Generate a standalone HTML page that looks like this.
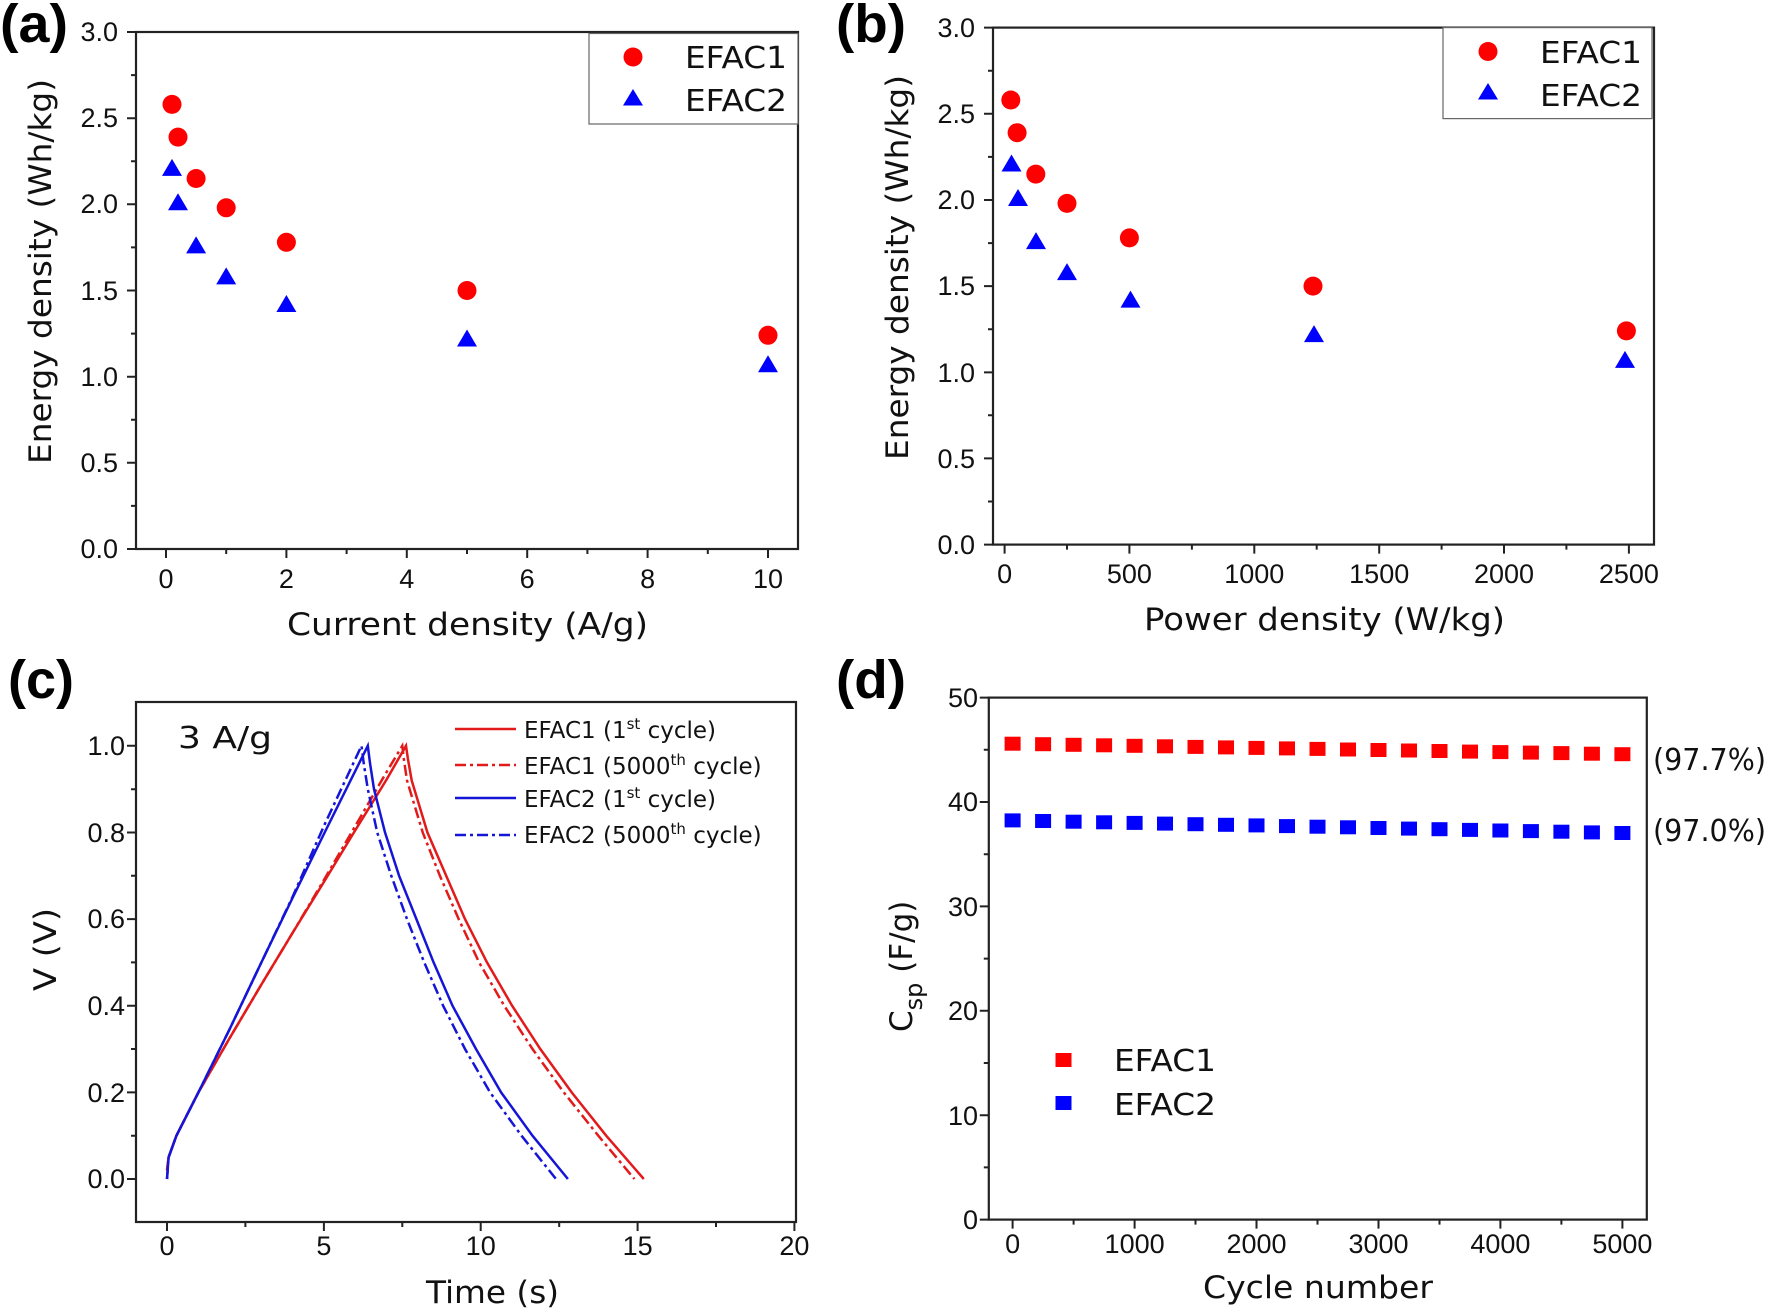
<!DOCTYPE html>
<html><head><meta charset="utf-8"><style>
html,body{margin:0;padding:0;background:#fff}
svg{display:block}
.t{font-family:"Liberation Sans",sans-serif;font-size:27px;fill:#111}
.ti{font-family:"DejaVu Sans","Liberation Sans",sans-serif;font-size:31px;fill:#111}
.lg{font-family:"DejaVu Sans","Liberation Sans",sans-serif;font-size:30px;fill:#111}
.lc{font-family:"DejaVu Sans","Liberation Sans",sans-serif;font-size:23px;fill:#111}
.pl{font-family:"Liberation Sans",sans-serif;font-size:54px;font-weight:bold;fill:#000}
.ax{fill:none;stroke:#222;stroke-width:2.2}
.tk{stroke:#222;stroke-width:2}
</style></head><body>
<svg width="1776" height="1314" viewBox="0 0 1776 1314" xmlns="http://www.w3.org/2000/svg">
<!-- Panel labels -->
<text class="pl" x="0" y="42" textLength="68" lengthAdjust="spacingAndGlyphs">(a)</text>
<text class="pl" x="836" y="42" textLength="70" lengthAdjust="spacingAndGlyphs">(b)</text>
<text class="pl" x="8" y="698" textLength="66" lengthAdjust="spacingAndGlyphs">(c)</text>
<text class="pl" x="836" y="698" textLength="70" lengthAdjust="spacingAndGlyphs">(d)</text>

<!-- ===== (a) ===== -->
<rect class="ax" x="136" y="32" width="662" height="517"/>
<g class="tk">
<path d="M166 549v9M286.4 549v9M406.8 549v9M527.2 549v9M647.6 549v9M768 549v9M226.2 549v5M346.6 549v5M467 549v5M587.4 549v5M707.8 549v5"/>
<path d="M136 549h-9M136 462.8h-9M136 376.7h-9M136 290.5h-9M136 204.3h-9M136 118.2h-9M136 32h-9M136 505.9h-5M136 419.7h-5M136 333.6h-5M136 247.4h-5M136 161.3h-5M136 75.1h-5"/>
</g>
<g class="t" text-anchor="end">
<text x="118" y="558">0.0</text><text x="118" y="472">0.5</text><text x="118" y="386">1.0</text><text x="118" y="300">1.5</text><text x="118" y="213">2.0</text><text x="118" y="127">2.5</text><text x="118" y="41">3.0</text>
</g>
<g class="t" text-anchor="middle">
<text x="166" y="588">0</text><text x="286.4" y="588">2</text><text x="406.8" y="588">4</text><text x="527.2" y="588">6</text><text x="647.6" y="588">8</text><text x="768" y="588">10</text>
</g>
<text class="ti" x="287" y="635" textLength="361" lengthAdjust="spacingAndGlyphs">Current density (A/g)</text>
<text class="ti" transform="translate(51,272) rotate(-90)" x="-192" y="0" textLength="385" lengthAdjust="spacingAndGlyphs">Energy density (Wh/kg)</text>
<rect x="589" y="33.5" width="209" height="90.5" fill="#fff" stroke="#666" stroke-width="1.2"/>
<circle cx="633" cy="57" r="9.5" fill="#f00"/>
<path d="M633 89l10 16.5h-20z" fill="#00f"/>
<text class="lg" x="685" y="68" textLength="102" lengthAdjust="spacingAndGlyphs">EFAC1</text>
<text class="lg" x="685" y="111" textLength="102" lengthAdjust="spacingAndGlyphs">EFAC2</text>
<g fill="#f00">
<circle cx="172" cy="104.4" r="9.5"/><circle cx="178" cy="137.1" r="9.5"/><circle cx="196.1" cy="178.5" r="9.5"/><circle cx="226.2" cy="207.8" r="9.5"/><circle cx="286.4" cy="242.3" r="9.5"/><circle cx="467" cy="290.5" r="9.5"/><circle cx="768" cy="335.3" r="9.5"/>
</g>
<g fill="#00f">
<path d="M172 158.9l10 17h-20z"/><path d="M178 193.3l10 17h-20z"/><path d="M196.1 236.4l10 17h-20z"/><path d="M226.2 267.4l10 17h-20z"/><path d="M286.4 295l10 17h-20z"/><path d="M467 329.5l10 17h-20z"/><path d="M768 355.3l10 17h-20z"/>
</g>

<!-- ===== (b) ===== -->
<rect class="ax" x="993" y="27.6" width="661" height="517"/>
<g class="tk">
<path d="M1004.6 544.6v9M1129.4 544.6v9M1254.3 544.6v9M1379.2 544.6v9M1504 544.6v9M1628.9 544.6v9M1067 544.6v5M1191.9 544.6v5M1316.7 544.6v5M1441.6 544.6v5M1566.4 544.6v5"/>
<path d="M993 544.6h-9M993 458.4h-9M993 372.4h-9M993 286.1h-9M993 200h-9M993 113.8h-9M993 27.6h-9M993 501.5h-5M993 415.3h-5M993 329.2h-5M993 243.1h-5M993 156.9h-5M993 70.7h-5"/>
</g>
<g class="t" text-anchor="end">
<text x="975" y="554">0.0</text><text x="975" y="468">0.5</text><text x="975" y="382">1.0</text><text x="975" y="295">1.5</text><text x="975" y="209">2.0</text><text x="975" y="123">2.5</text><text x="975" y="37">3.0</text>
</g>
<g class="t" text-anchor="middle">
<text x="1004.6" y="583">0</text><text x="1129.4" y="583">500</text><text x="1254.3" y="583">1000</text><text x="1379.2" y="583">1500</text><text x="1504" y="583">2000</text><text x="1628.9" y="583">2500</text>
</g>
<text class="ti" x="1144" y="630" textLength="361" lengthAdjust="spacingAndGlyphs">Power density (W/kg)</text>
<text class="ti" transform="translate(908,268) rotate(-90)" x="-192" y="0" textLength="385" lengthAdjust="spacingAndGlyphs">Energy density (Wh/kg)</text>
<rect x="1443" y="27.6" width="209" height="91" fill="#fff" stroke="#666" stroke-width="1.2"/>
<circle cx="1488" cy="51.5" r="9.5" fill="#f00"/>
<path d="M1488 83l10 16.5h-20z" fill="#00f"/>
<text class="lg" x="1540" y="63" textLength="102" lengthAdjust="spacingAndGlyphs">EFAC1</text>
<text class="lg" x="1540" y="106" textLength="102" lengthAdjust="spacingAndGlyphs">EFAC2</text>
<g fill="#f00">
<circle cx="1010.8" cy="100" r="9.5"/><circle cx="1017.1" cy="132.7" r="9.5"/><circle cx="1035.8" cy="174.1" r="9.5"/><circle cx="1067" cy="203.4" r="9.5"/><circle cx="1129.4" cy="237.9" r="9.5"/><circle cx="1313" cy="286.1" r="9.5"/><circle cx="1626.4" cy="330.9" r="9.5"/>
</g>
<g fill="#00f">
<path d="M1011.5 154.5l10 17h-20z"/><path d="M1018 189l10 17h-20z"/><path d="M1036 232.1l10 17h-20z"/><path d="M1067 263.1l10 17h-20z"/><path d="M1130.5 290.6l10 17h-20z"/><path d="M1314 325.1l10 17h-20z"/><path d="M1625 350.9l10 17h-20z"/>
</g>

<!-- ===== (c) ===== -->
<rect class="ax" x="136" y="702" width="660" height="520"/>
<g class="tk">
<path d="M167 1222v9M323.9 1222v9M480.7 1222v9M637.6 1222v9M794.4 1222v9M245.4 1222v5M402.3 1222v5M559.2 1222v5M716 1222v5"/>
<path d="M136 1179h-9M136 1092.4h-9M136 1005.7h-9M136 919.1h-9M136 832.5h-9M136 745.8h-9M136 1135.7h-5M136 1049h-5M136 962.4h-5M136 875.8h-5M136 789.2h-5"/>
</g>
<g class="t" text-anchor="end">
<text x="125" y="1188">0.0</text><text x="125" y="1102">0.2</text><text x="125" y="1015">0.4</text><text x="125" y="928">0.6</text><text x="125" y="842">0.8</text><text x="125" y="755">1.0</text>
</g>
<g class="t" text-anchor="middle">
<text x="167" y="1255">0</text><text x="323.9" y="1255">5</text><text x="480.7" y="1255">10</text><text x="637.6" y="1255">15</text><text x="794.4" y="1255">20</text>
</g>
<text class="ti" x="426" y="1303" textLength="133" lengthAdjust="spacingAndGlyphs">Time (s)</text>
<text class="ti" transform="translate(56,950) rotate(-90)" x="-41" y="0" textLength="83" lengthAdjust="spacingAndGlyphs">V (V)</text>
<text class="lg" x="178" y="748" textLength="94" lengthAdjust="spacingAndGlyphs">3 A/g</text>
<g fill="none" stroke-width="2.5">
<polyline stroke="#e21a1a" points="167,1170.3 168.6,1157.3 176.4,1135.7 198.4,1092.4 229.7,1038 261.1,985 292.5,933 323.9,882 355.2,830.4 386.6,779.5 406,745.8 407.9,758.8 411.7,780.5 427.4,832.4 446.2,875.8 465,919.1 487,962.4 512.1,1005.7 540.3,1049 571.7,1092.4 606.2,1135.7 643.8,1179"/>
<polyline stroke="#e21a1a" stroke-dasharray="11,4,3,4" points="167,1170.3 168.6,1157.3 176.4,1135.7 198.4,1092.4 229.7,1038 261.1,985 292.5,933 323.9,880 355.2,826.1 386.6,772 402.3,745.8 403.8,758.8 407,780.5 422.7,832.4 439.9,875.8 458.7,919.1 479.1,962.4 504.2,1005.7 532.5,1049 563.8,1092.4 598.3,1135.7 634.4,1179"/>
<polyline stroke="#1515d8" points="167,1179 168.6,1157.3 176.4,1135.7 198.4,1092.4 229.7,1029 261.1,963 292.5,898 323.9,834 367.8,745.8 370,763.1 374,789.1 385,832.4 399.1,875.8 416.4,919.1 433.6,962.4 452.5,1005.7 476,1049 501.1,1092.4 532.5,1135.7 567.9,1179"/>
<polyline stroke="#1515d8" stroke-dasharray="11,4,3,4" points="167,1179 168.6,1157.3 176.4,1135.7 198.4,1092.4 229.7,1029 261.1,963 292.5,897 323.9,826 361.5,745.8 363.7,763.1 367.8,789.1 377.2,832.4 391.3,875.8 407,919.1 424.2,962.4 443.1,1005.7 465,1049 490.1,1092.4 521.5,1135.7 556,1179"/>
<path stroke="#e21a1a" d="M455 729h61"/>
<path stroke="#e21a1a" stroke-dasharray="11,4,3,4" d="M455 765h61"/>
<path stroke="#1515d8" d="M455 798h61"/>
<path stroke="#1515d8" stroke-dasharray="11,4,3,4" d="M455 835h61"/>
</g>
<g class="lc">
<text x="524" y="738">EFAC1 (1<tspan dy="-9" font-size="15">st</tspan><tspan dy="9"> cycle)</tspan></text>
<text x="524" y="774">EFAC1 (5000<tspan dy="-9" font-size="15">th</tspan><tspan dy="9"> cycle)</tspan></text>
<text x="524" y="807">EFAC2 (1<tspan dy="-9" font-size="15">st</tspan><tspan dy="9"> cycle)</tspan></text>
<text x="524" y="843">EFAC2 (5000<tspan dy="-9" font-size="15">th</tspan><tspan dy="9"> cycle)</tspan></text>
</g>

<!-- ===== (d) ===== -->
<rect class="ax" x="988.8" y="697.6" width="658" height="522"/>
<g class="tk">
<path d="M1012.6 1219.6v9M1134.6 1219.6v9M1256.5 1219.6v9M1378.5 1219.6v9M1500.4 1219.6v9M1622.4 1219.6v9M1073.6 1219.6v5M1195.5 1219.6v5M1317.5 1219.6v5M1439.5 1219.6v5M1561.4 1219.6v5"/>
<path d="M988.8 1219.6h-9M988.8 1115.2h-9M988.8 1010.8h-9M988.8 906.4h-9M988.8 802h-9M988.8 697.6h-9M988.8 1167.4h-5M988.8 1063h-5M988.8 958.6h-5M988.8 854.2h-5M988.8 749.8h-5"/>
</g>
<g class="t" text-anchor="end">
<text x="978" y="1229">0</text><text x="978" y="1125">10</text><text x="978" y="1020">20</text><text x="978" y="916">30</text><text x="978" y="811">40</text><text x="978" y="707">50</text>
</g>
<g class="t" text-anchor="middle">
<text x="1012.6" y="1253">0</text><text x="1134.6" y="1253">1000</text><text x="1256.5" y="1253">2000</text><text x="1378.5" y="1253">3000</text><text x="1500.4" y="1253">4000</text><text x="1622.4" y="1253">5000</text>
</g>
<text class="ti" x="1203" y="1298" textLength="230" lengthAdjust="spacingAndGlyphs">Cycle number</text>
<text class="ti" transform="translate(912,942) rotate(-90)" x="-90" y="0">C<tspan dy="10" font-size="24">sp</tspan><tspan dy="-10"> (F/g)</tspan></text>
<text class="lg" x="1653" y="770" textLength="113" lengthAdjust="spacingAndGlyphs">(97.7%)</text>
<text class="lg" x="1653" y="841" textLength="113" lengthAdjust="spacingAndGlyphs">(97.0%)</text>
<rect x="1055.5" y="1053" width="16" height="14" fill="#f00"/>
<rect x="1055.5" y="1096" width="16" height="14" fill="#00f"/>
<text class="lg" x="1114" y="1071" textLength="102" lengthAdjust="spacingAndGlyphs">EFAC1</text>
<text class="lg" x="1114" y="1115" textLength="102" lengthAdjust="spacingAndGlyphs">EFAC2</text>
<g fill="#f00">
<rect x="1004.6" y="736.7" width="16" height="14"/><rect x="1035.1" y="737.2" width="16" height="14"/><rect x="1065.6" y="737.8" width="16" height="14"/><rect x="1096.1" y="738.3" width="16" height="14"/><rect x="1126.6" y="738.8" width="16" height="14"/><rect x="1157" y="739.3" width="16" height="14"/><rect x="1187.5" y="739.9" width="16" height="14"/><rect x="1218" y="740.4" width="16" height="14"/><rect x="1248.5" y="740.9" width="16" height="14"/><rect x="1279" y="741.4" width="16" height="14"/><rect x="1309.5" y="741.9" width="16" height="14"/><rect x="1340" y="742.5" width="16" height="14"/><rect x="1370.5" y="743" width="16" height="14"/><rect x="1401" y="743.5" width="16" height="14"/><rect x="1431.5" y="744" width="16" height="14"/><rect x="1462" y="744.6" width="16" height="14"/><rect x="1492.4" y="745.1" width="16" height="14"/><rect x="1522.9" y="745.6" width="16" height="14"/><rect x="1553.4" y="746.1" width="16" height="14"/><rect x="1583.9" y="746.7" width="16" height="14"/><rect x="1614.4" y="747.2" width="16" height="14"/>
</g>
<g fill="#00f">
<rect x="1004.6" y="813.4" width="16" height="14"/><rect x="1035.1" y="814" width="16" height="14"/><rect x="1065.6" y="814.7" width="16" height="14"/><rect x="1096.1" y="815.3" width="16" height="14"/><rect x="1126.6" y="815.9" width="16" height="14"/><rect x="1157" y="816.6" width="16" height="14"/><rect x="1187.5" y="817.2" width="16" height="14"/><rect x="1218" y="817.8" width="16" height="14"/><rect x="1248.5" y="818.4" width="16" height="14"/><rect x="1279" y="819.1" width="16" height="14"/><rect x="1309.5" y="819.7" width="16" height="14"/><rect x="1340" y="820.3" width="16" height="14"/><rect x="1370.5" y="821" width="16" height="14"/><rect x="1401" y="821.6" width="16" height="14"/><rect x="1431.5" y="822.2" width="16" height="14"/><rect x="1462" y="822.9" width="16" height="14"/><rect x="1492.4" y="823.5" width="16" height="14"/><rect x="1522.9" y="824.1" width="16" height="14"/><rect x="1553.4" y="824.7" width="16" height="14"/><rect x="1583.9" y="825.4" width="16" height="14"/><rect x="1614.4" y="826" width="16" height="14"/>
</g>
</svg>
</body></html>
